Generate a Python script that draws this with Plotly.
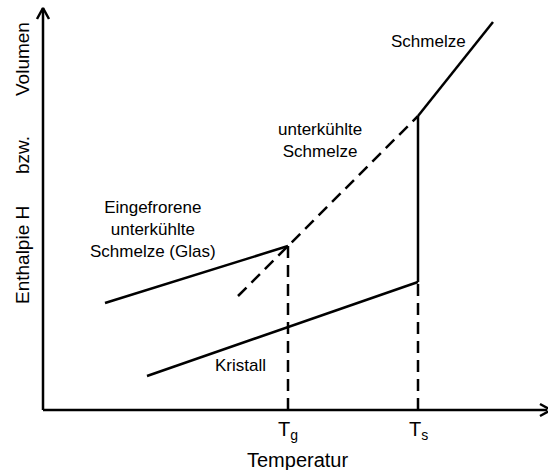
import plotly.graph_objects as go

# Diagram coordinates: x = temperature (origin at axis corner), y = enthalpy/volume
glass_x = [62, 245]
glass_y = [107, 164]
supercooled_x = [195, 375]
supercooled_y = [114, 294]
melt_x = [375, 450]
melt_y = [294, 388]
melt_jump_x = [375, 375]
melt_jump_y = [128, 294]
crystal_x = [104, 375]
crystal_y = [34, 128]
tg_x = [245, 245]
tg_y = [0, 164]
ts_x = [375, 375]
ts_y = [0, 128]

tick_labels = ["T<sub>g</sub>", "T<sub>s</sub>"]
tick_pos = [245, 375]

FONT = "Liberation Sans, Arial, sans-serif"
solid = dict(color="black", width=2.5)
dashed = dict(color="black", width=2.5, dash="12px,7px")

fig = go.Figure()
for xs, ys, ln in [
    (glass_x, glass_y, solid),
    (supercooled_x, supercooled_y, dashed),
    (melt_x, melt_y, solid),
    (melt_jump_x, melt_jump_y, solid),
    (crystal_x, crystal_y, solid),
    (tg_x, tg_y, dashed),
    (ts_x, ts_y, dashed),
]:
    fig.add_trace(go.Scatter(x=xs, y=ys, mode="lines", line=ln,
                             showlegend=False, hoverinfo="skip"))

# Axis lines with open arrowheads
axis_line = dict(color="black", width=2.5)
fig.add_trace(go.Scatter(x=[0, 0, None, -6, 0, 6], y=[0, 402, None, 391, 402, 391],
                         mode="lines", line=axis_line, showlegend=False, hoverinfo="skip"))
fig.add_trace(go.Scatter(x=[0, 504, None, 497, 508, 497], y=[0, 0, None, 6, 0, -6],
                         mode="lines", line=axis_line, showlegend=False, hoverinfo="skip"))

def label(text, x, y, size=17, angle=0):
    fig.add_annotation(x=x, y=y, xref="x", yref="y", text=text, showarrow=False,
                       font=dict(family=FONT, size=size, color="black"),
                       textangle=angle, xanchor="center", yanchor="middle", align="center")

label("Schmelze", 385, 369)
label("unterkühlte<br>Schmelze", 277, 270)
label("Eingefrorene<br>unterkühlte<br>Schmelze (Glas)", 110, 181)
label("Kristall", 197, 45)
for t, p in zip(tick_labels, tick_pos):
    label(t, p, -20, size=20)
label("Temperatur", 254, -50, size=20)
label("Enthalpie H", -21, 155, size=19, angle=-90)
label("bzw.", -21, 255, size=19, angle=-90)
label("Volumen", -21, 351, size=19, angle=-90)

fig.update_layout(
    width=548, height=470,
    margin=dict(l=0, r=0, t=0, b=0),
    plot_bgcolor="white", paper_bgcolor="white",
    xaxis=dict(range=[-43, 505], visible=False, fixedrange=True),
    yaxis=dict(range=[-60, 410], visible=False, fixedrange=True),
)
fig.write_html("out.html", config={"displayModeBar": False},
               post_script="document.body.style.margin='0';document.body.style.overflow='hidden';")
